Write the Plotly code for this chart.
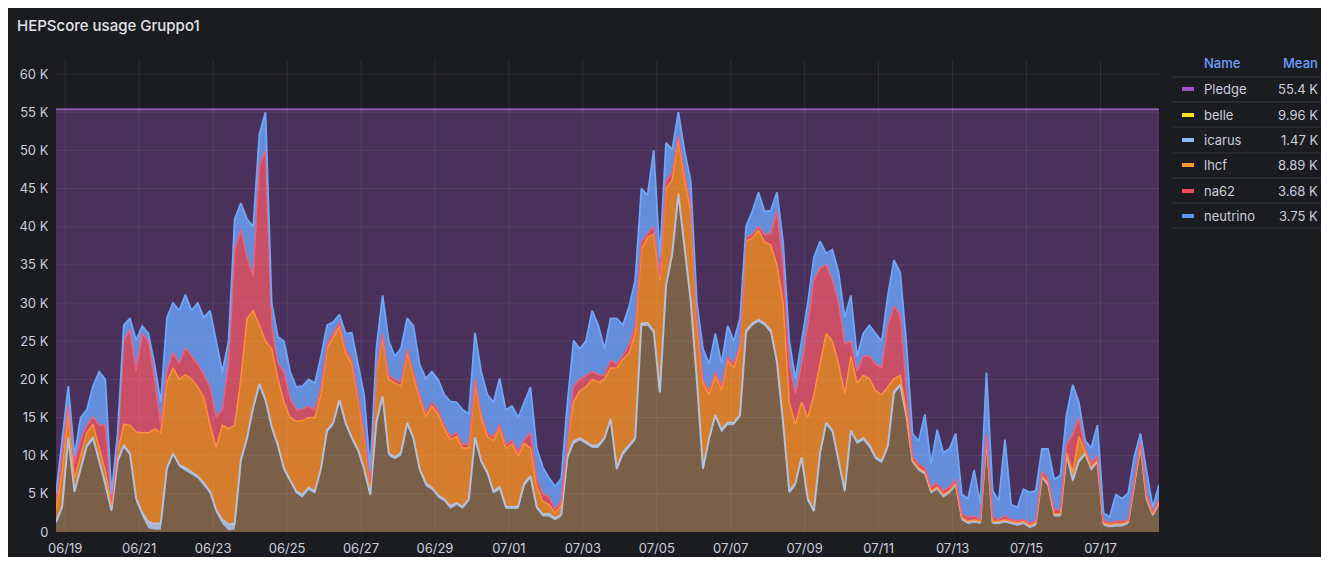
import plotly.graph_objects as go
import pandas as pd

# ------------------------------------------------------------------ data
START = "2024-06-18 18:00"   # first sample
STEP = "4h"                  # sampling step

belle = [
    1, 3, 12, 5, 8, 11, 12, 9, 6, 2.5,
    9, 11, 10, 4, 2, 0.5, 0.3, 0.3, 8, 10,
    8.5, 8, 7.5, 7, 6, 5, 2.5, 1, 0.2, 0.3,
    9, 12, 16, 19, 17, 13.5, 11, 8, 6.5, 5,
    4.5, 5.5, 5, 8, 13, 14, 17, 14, 12, 10.5,
    8, 4.6, 14, 17.5, 10, 9.5, 10, 14, 12, 8,
    6, 5.5, 4.5, 4, 3, 3.5, 3, 4, 12, 9,
    7.5, 5, 5.5, 3, 3, 3, 6, 7, 3, 2,
    2, 1.5, 2, 9.5, 11.5, 12, 11.5, 11, 11, 12,
    14.5, 8, 10, 11, 12, 27, 27, 26, 18, 32,
    36, 44, 37, 30, 19.5, 8, 12, 15, 13, 14,
    14, 15, 26, 27, 27.5, 27, 26, 22, 14, 5,
    6, 9.5, 4, 2.5, 10, 14, 13, 9, 5, 13,
    11.5, 12, 11, 9.5, 9, 11, 18, 19, 15, 9,
    8, 7.5, 5, 5.5, 4.5, 5, 6, 1.5, 1, 1.2,
    1, 12, 1, 1, 1.2, 1, 0.8, 1, 0.5, 0.8,
    7, 6, 2, 2, 10, 6.5, 9, 10, 8, 9,
    0.8, 0.6, 0.7, 0.7, 1, 6, 11, 4, 2, 3.5,
]

icarus = [
    0.3, 0.3, 0.4, 0.3, 0.3, 0.3, 0.4, 0.3, 0.3, 0.3,
    0.3, 0.4, 0.3, 0.4, 0.5, 0.8, 0.8, 0.8, 0.4, 0.3,
    0.3, 0.4, 0.3, 0.3, 0.4, 0.3, 0.4, 0.6, 0.8, 0.8,
    0.4, 0.3, 0.3, 0.4, 0.3, 0.3, 0.4, 0.3, 0.3, 0.3,
    0.4, 0.3, 0.3, 0.3, 0.4, 0.3, 0.3, 0.3, 0.4, 0.3,
    0.3, 0.3, 0.4, 0.3, 0.3, 0.3, 0.4, 0.3, 0.3, 0.3,
    0.4, 0.3, 0.3, 0.3, 0.4, 0.3, 0.3, 0.3, 0.4, 0.3,
    0.3, 0.3, 0.4, 0.3, 0.3, 0.3, 0.4, 0.3, 0.3, 0.3,
    0.4, 0.3, 0.3, 0.3, 0.4, 0.3, 0.3, 0.3, 0.4, 0.3,
    0.3, 0.3, 0.4, 0.3, 0.3, 0.3, 0.4, 0.3, 0.3, 0.3,
    0.4, 0.3, 0.3, 0.3, 0.4, 0.3, 0.3, 0.3, 0.4, 0.3,
    0.3, 0.3, 0.4, 0.3, 0.3, 0.3, 0.4, 0.3, 0.3, 0.3,
    0.4, 0.3, 0.3, 0.3, 0.4, 0.3, 0.3, 0.3, 0.4, 0.3,
    0.3, 0.3, 0.4, 0.3, 0.3, 0.3, 0.4, 0.3, 0.3, 0.3,
    0.3, 0.3, 0.3, 0.3, 0.3, 0.3, 0.3, 0.3, 0.3, 0.3,
    0.3, 0.3, 0.3, 0.3, 0.3, 0.3, 0.3, 0.3, 0.3, 0.3,
    0.3, 0.3, 0.3, 0.3, 0.3, 0.3, 0.3, 0.3, 0.3, 0.3,
    0.3, 0.3, 0.3, 0.3, 0.3, 0.3, 0.3, 0.3, 0.3, 0.3,
]

lhcf = [
    1.7, 4.7, 3.2, 1.7, 1.7, 1.7, 1.7, 1.7, 1.7, 0.7,
    1.2, 2.7, 3.7, 8.7, 10.5, 11.7, 12.4, 11.9, 11.2, 11.2,
    11.2, 12.2, 12.2, 11.7, 11.2, 8.7, 8.2, 12.4, 12.5, 12.9,
    10.7, 15.7, 12.7, 7.7, 7.7, 10.2, 8.7, 8.7, 8.2, 9.2,
    9.7, 9.2, 9.7, 9.7, 10.7, 11.2, 9.7, 9.2, 9.7, 6.7,
    4.2, 1.1, 6.2, 7.7, 9.7, 9.7, 8.7, 9.2, 8.2, 9.2,
    8.7, 10.7, 10.7, 9.2, 8.7, 8.7, 7.7, 6.7, 7.2, 5.7,
    4.7, 6.7, 7.7, 7.7, 8.2, 6.7, 5.2, 3.7, 2.7, 1.7,
    1.2, 0.7, 1.2, 1.7, 5.2, 6.2, 7.2, 8.7, 8.2, 7.7,
    6.7, 13.2, 12.2, 12.2, 13.7, 9.7, 11.2, 12.7, 14.7, 12.7,
    9.7, 7.2, 8.7, 11.7, 7.2, 11.2, 5.7, 5.2, 5.2, 8.2,
    7.2, 8.7, 11.7, 11.2, 11.7, 10.7, 11.2, 12.7, 15.7, 11.7,
    7.7, 7.2, 10.7, 15.2, 11.7, 11.7, 11.7, 12.7, 12.7, 9.7,
    7.7, 8.2, 8.7, 8.7, 8.7, 7.7, 1.7, 1.2, 0.5, 0.1,
    0.1, 0.1, 0.1, 0.1, 0.1, 0.1, 0.1, 0.1, 0.1, 0.1,
    0.1, 0.1, 0.1, 0.1, 0.1, 0.1, 0.1, 0.1, 0.1, 0.1,
    0.1, 0.1, 0.1, 0.1, 0.1, 1.0, 3.2, 0.2, 0.2, 0.2,
    0.1, 0.1, 0.1, 0.1, 0.1, 0.1, 0.1, 0.1, 0.1, 0.1,
]

na62 = [
    1, 2, 1, 2, 2, 1, 1, 3, 6, 0.5,
    0.5, 11, 12.5, 8, 13, 12, 6.5, 1, 1.5, 2,
    2, 3.5, 3, 3, 3, 5, 4, 2, 8.5, 23,
    19.5, 8, 4.5, 21, 25, 3, 2, 4, 2.5, 1.5,
    1.5, 1.5, 1, 1, 0.5, 0.5, 0.5, 0.5, 0.5, 0.5,
    0.5, 0.5, 0.5, 0.5, 0.5, 0.5, 0.5, 0.5, 0.5, 0.5,
    0.5, 0.5, 0.5, 0.5, 0.5, 0.5, 0.5, 0.5, 0.5, 0.5,
    0.5, 0.5, 0.5, 0.5, 0.5, 0.5, 0.5, 2, 1, 1,
    1, 0.5, 0.5, 0.5, 2, 1.5, 1.5, 1, 1, 0.5,
    1, 0.5, 0.5, 1, 1, 1, 0.5, 1, 0.5, 1,
    1, 0.5, 1, 1, 1, 0.5, 0.5, 0.5, 0.5, 0.5,
    0.5, 0.5, 0.5, 0.5, 0.5, 1, 1.5, 7, 5, 5,
    4, 5, 12, 15, 12.5, 9, 8, 8, 6.5, 2,
    1.5, 2.5, 3, 3.5, 3.5, 8, 9.5, 8, 3, 0.5,
    0.5, 0.5, 0.5, 0.5, 0.5, 0.5, 0.5, 0.5, 0.5, 0.5,
    0.2, 0.5, 0.5, 0.2, 0.5, 0.2, 0.3, 0.2, 0.3, 0.2,
    0.5, 0.5, 0.5, 0.5, 1, 5, 2.5, 0.5, 0.5, 0.5,
    0.3, 0.2, 0.3, 0.3, 0.2, 0.5, 0.5, 0.5, 0.3, 0.3,
]

neutrino = [
    1, 2, 2.5, 1, 3, 2, 4, 7, 6, 1,
    2, 2, 1.5, 4, 1, 1, 2, 3, 7, 6.5,
    7, 7, 6, 8, 7.5, 10, 10, 5, 3, 4,
    3.5, 5, 6.5, 4, 5, 3, 3.5, 4, 3.5, 3,
    3, 3.5, 3.5, 4, 2.5, 1.5, 1, 2, 3.5, 4,
    5, 1.5, 3, 5, 4.5, 3, 4.5, 4, 6, 4,
    4.5, 4, 4, 4, 4.5, 4, 4.5, 4, 6, 5.5,
    5, 4.5, 6, 4.5, 4.5, 4.5, 5, 6, 4, 3.5,
    2.5, 3, 3, 5, 6, 4, 4.5, 8, 6.5, 3.5,
    5.5, 6, 4, 5, 6, 7, 5, 10, 2.5, 5,
    3, 3, 3, 3, 2, 4, 3.5, 5, 3, 4,
    3, 3.5, 1.5, 3, 4.5, 3, 3, 2.5, 3, 3,
    2, 3, 3, 3, 3.5, 1.5, 4, 4, 3.5, 6,
    2, 3, 4, 4, 3.5, 4, 6, 5.5, 6, 3,
    3, 7, 3, 7, 5, 5, 6, 2.5, 2.5, 6,
    2, 8, 3.5, 2.5, 10, 2, 1.7, 4, 4, 4,
    3, 4, 4, 4.5, 4, 6.5, 2, 1, 2, 4,
    1, 0.8, 3.5, 3, 3.5, 3, 1, 3, 0.5, 2,
]

pledge_level = 55.4  # K

legend_names = ["Pledge", "belle", "icarus", "lhcf", "na62", "neutrino"]
legend_means = ["55.4 K", "9.96 K", "1.47 K", "8.89 K", "3.68 K", "3.75 K"]
legend_colors = ["#a352cc", "#fade2a", "#8ab8ff", "#ff9830", "#f2495c", "#5794f2"]

ytick_vals = [0, 5, 10, 15, 20, 25, 30, 35, 40, 45, 50, 55, 60]
ytick_text = ["0", "5 K", "10 K", "15 K", "20 K", "25 K", "30 K", "35 K",
              "40 K", "45 K", "50 K", "55 K", "60 K"]
TICK0 = "2024-06-19"
LAST_TICK = "2024-07-17"

# ------------------------------------------------------------------ styling
BG = "#1b1c20"
TXT = "#ccccdc"
GRID = "rgba(204,204,220,0.10)"
PURPLE_FILL = "#49315b"
OFF = 8                       # page body margin
W, H = 1313, 549
ML, MR, MT, MB = 48, 162, 52, 25
PW, PH = W - ML - MR, H - MT - MB


def pxx(page_x):
    return (page_x - OFF - ML) / PW


def pyy(page_y):
    return 1 - (page_y - OFF - MT) / PH


times = pd.date_range(START, periods=len(belle), freq=STEP)
pledge = [pledge_level] * len(times)

fig = go.Figure()

fig.add_trace(go.Scatter(
    x=times, y=pledge, mode="lines", name="Pledge",
    line=dict(color="#8a5aae", width=2), fill="tozeroy", fillcolor=PURPLE_FILL,
    hoverinfo="skip"))

stack_specs = [
    ("belle", belle, "#7a6048", "rgba(0,0,0,0)", 0),
    ("icarus", icarus, "#a6b6d0", "#b3c1da", 2),
    ("lhcf", lhcf, "#d67d2d", "#ff8f3a", 1.5),
    ("na62", na62, "#c94f66", "#ec6278", 1.5),
    ("neutrino", neutrino, "#648ddc", "#6ea6f8", 1.8),
]
for name, vals, fill, lc, lw in stack_specs:
    fig.add_trace(go.Scatter(
        x=times, y=vals, mode="lines", name=name, stackgroup="one",
        line=dict(color=lc, width=lw), fillcolor=fill, hoverinfo="skip"))

shapes = []
for v in ytick_vals[1:]:
    shapes.append(dict(type="line", xref="paper", yref="y", x0=0, x1=1, y0=v, y1=v,
                       line=dict(color=GRID, width=1), layer="above"))
for d in pd.date_range(TICK0, LAST_TICK, freq="2D"):
    shapes.append(dict(type="line", xref="x", yref="paper", x0=d, x1=d, y0=0, y1=1,
                       line=dict(color=GRID, width=1), layer="above"))

annotations = [dict(
    text="HEPScore usage Gruppo1", xref="paper", yref="paper",
    x=pxx(15), y=pyy(26), xanchor="left", yanchor="middle", showarrow=False,
    font=dict(size=15, color="#e2e2ea", weight=500))]

HEAD_Y = 63
ROW_Y = [89, 115, 140, 165, 191, 216]
SEP_Y = [77, 102, 127, 153, 178, 203, 228]
for sy in SEP_Y:
    shapes.append(dict(type="line", xref="paper", yref="paper",
                       x0=pxx(1172), x1=pxx(1322), y0=pyy(sy), y1=pyy(sy),
                       line=dict(color="#34363c", width=1)))
annotations.append(dict(text="Name", xref="paper", yref="paper", x=pxx(1202), y=pyy(HEAD_Y),
                        xanchor="left", yanchor="middle", showarrow=False,
                        font=dict(size=13, color="#6e9fff", weight=500)))
annotations.append(dict(text="Mean", xref="paper", yref="paper", x=pxx(1320), y=pyy(HEAD_Y),
                        xanchor="right", yanchor="middle", showarrow=False,
                        font=dict(size=13, color="#6e9fff", weight=500)))
for name, mean, col, ry in zip(legend_names, legend_means, legend_colors, ROW_Y):
    shapes.append(dict(type="line", xref="paper", yref="paper",
                       x0=pxx(1182), x1=pxx(1194), y0=pyy(ry), y1=pyy(ry),
                       line=dict(color=col, width=4)))
    annotations.append(dict(text=name, xref="paper", yref="paper", x=pxx(1202), y=pyy(ry),
                            xanchor="left", yanchor="middle", showarrow=False,
                            font=dict(size=13, color=TXT)))
    annotations.append(dict(text=mean, xref="paper", yref="paper", x=pxx(1320), y=pyy(ry),
                            xanchor="right", yanchor="middle", showarrow=False,
                            font=dict(size=13, color=TXT)))

fig.update_layout(
    width=W, height=H,
    margin=dict(l=ML, r=MR, t=MT, b=MB, pad=0, autoexpand=False),
    paper_bgcolor=BG, plot_bgcolor=BG,
    showlegend=False,
    font=dict(family="Inter", size=13, color=TXT),
    shapes=shapes, annotations=annotations,
    xaxis=dict(type="date", range=[times[0], times[-1]], showgrid=False, zeroline=False,
               showline=False, ticks="outside", ticklen=4, tickcolor="rgba(0,0,0,0)",
               tickformat="%m/%d", tick0=TICK0, dtick=2 * 86400000, automargin=False,
               tickfont=dict(size=13, color=TXT)),
    yaxis=dict(range=[0, 61.84], tickvals=ytick_vals, ticktext=ytick_text,
               showgrid=False, zeroline=False, showline=False, ticks="outside",
               ticklen=4, tickcolor="rgba(0,0,0,0)", automargin=False,
               tickfont=dict(size=13, color=TXT)),
)

fig.write_html("out.html")
